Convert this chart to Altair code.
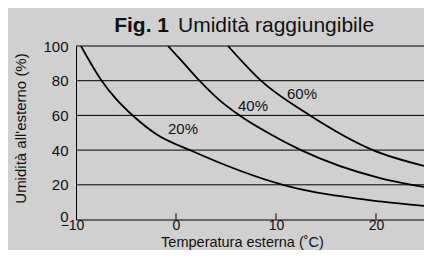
import altair as alt
import pandas as pd

# Curves: outdoor temperature (°C) -> outdoor humidity (%)
temp_20 = [-9.5, -7.4, -6.0, -4.3, -2.0, 1.6, 10.7, 20.4, 25.6]
rh_20 = [100, 79.7, 69.5, 59.8, 49.3, 39.5, 20, 10.4, 7.5]
temp_40 = [-0.8, 0.7, 2.4, 4.2, 6.4, 9.4, 12.5, 20.4, 23.6, 25.6]
rh_40 = [100, 90.6, 79.7, 69.5, 59.8, 49.3, 40, 23.9, 20, 18.1]
temp_60 = [5.2, 8.5, 13.4, 19.7, 25.6]
rh_60 = [100, 80, 60, 40, 29.8]

label_text = ["20%", "40%", "60%"]
label_temp = [0.7, 7.7, 12.6]
label_rh = [52.2, 65.2, 72.5]

x_ticks = [-10, 0, 10, 20]
y_ticks = [0, 20, 40, 60, 80, 100]
inner_ticks = [0, 10, 20]

FONT = "Liberation Sans"

rows = []
for name, ts, hs in (("20%", temp_20, rh_20), ("40%", temp_40, rh_40), ("60%", temp_60, rh_60)):
    for t, h in zip(ts, hs):
        rows.append({"serie": name, "temp": t, "rh": h})
curves = pd.DataFrame(rows)
labels = pd.DataFrame({"txt": label_text, "temp": label_temp, "rh": label_rh})
ticks = pd.DataFrame({"temp": inner_ticks, "y0": [0] * 3, "y1": [3.5] * 3})
grid = pd.DataFrame({"rh": y_ticks[1:]})

xscale = alt.Scale(domain=[-10, 24.8], nice=False, zero=False)
yscale = alt.Scale(domain=[0, 100], nice=False)

xaxis = alt.Axis(
    values=x_ticks, ticks=False, grid=False, domainColor="black", domainWidth=1,
    labelFont=FONT, labelFontSize=14, labelColor="#111", labelPadding=-1,
    labelOverlap=False, labelFlush=False,
    labelOffset={"condition": {"test": "datum.value == -10", "value": -4}, "value": 0},
    title="Temperatura esterna (˚C)", titleFont=FONT, titleFontSize=14.5,
    titleFontWeight="normal", titleColor="#111", titleX=166, titleY=26.7,
    titleAlign="center", titleBaseline="alphabetic",
)
yaxis = alt.Axis(
    values=y_ticks, ticks=False, grid=False,
    domainColor="black", domainWidth=1,
    labelFont=FONT, labelFontSize=15, labelColor="#111", labelPadding=8,
    labelOverlap=False, labelFlush=False,
    labelOffset={"condition": {"test": "datum.value == 0", "value": -3}, "value": 0},
    title="Umidità all'esterno (%)", titleFont=FONT, titleFontSize=15,
    titleFontWeight="normal", titleColor="#111", titleX=-56, titleY=82,
    titleAlign="center", titleBaseline="middle",
)

grid_rules = alt.Chart(grid).mark_rule(color="black", strokeWidth=1).encode(
    y=alt.Y("rh:Q", scale=yscale, axis=yaxis),
)

lines = alt.Chart(curves).mark_line(color="black", strokeWidth=1.8, interpolate="monotone", clip=True).encode(
    x=alt.X("temp:Q", scale=xscale, axis=xaxis),
    y=alt.Y("rh:Q", scale=yscale, axis=yaxis),
    detail="serie:N",
)

tick_rules = alt.Chart(ticks).mark_rule(color="black", strokeWidth=1).encode(
    x=alt.X("temp:Q", scale=xscale, axis=xaxis),
    y=alt.Y("y0:Q", scale=yscale, axis=yaxis),
    y2="y1:Q",
)

curve_labels = alt.Chart(labels).mark_text(font=FONT, fontSize=15, color="#111", align="center", baseline="middle").encode(
    x=alt.X("temp:Q", scale=xscale, axis=xaxis),
    y=alt.Y("rh:Q", scale=yscale, axis=yaxis),
    text="txt:N",
)

title_bold = alt.Chart(pd.DataFrame({"t": ["Fig. 1"]})).mark_text(
    font=FONT, fontSize=21, fontWeight="bold", color="#111", align="right", baseline="alphabetic"
).encode(x=alt.value(93), y=alt.value(-14.5), text="t:N")

title_norm = alt.Chart(pd.DataFrame({"t": ["Umidità raggiungibile"]})).mark_text(
    font=FONT, fontSize=21, color="#111", align="left", baseline="alphabetic"
).encode(x=alt.value(102), y=alt.value(-14.5), text="t:N")

chart = alt.layer(grid_rules, lines, tick_rules, curve_labels, title_bold, title_norm).properties(
    width=348, height=173.5,
    background="#d0d0d0",
    padding={"left": 68, "top": 38, "right": 0, "bottom": 30.5},
    autosize=alt.AutoSizeParams(type="none"),
).configure_view(stroke=None)

chart.save("out.html", embed_options={"renderer": "svg", "actions": False})
